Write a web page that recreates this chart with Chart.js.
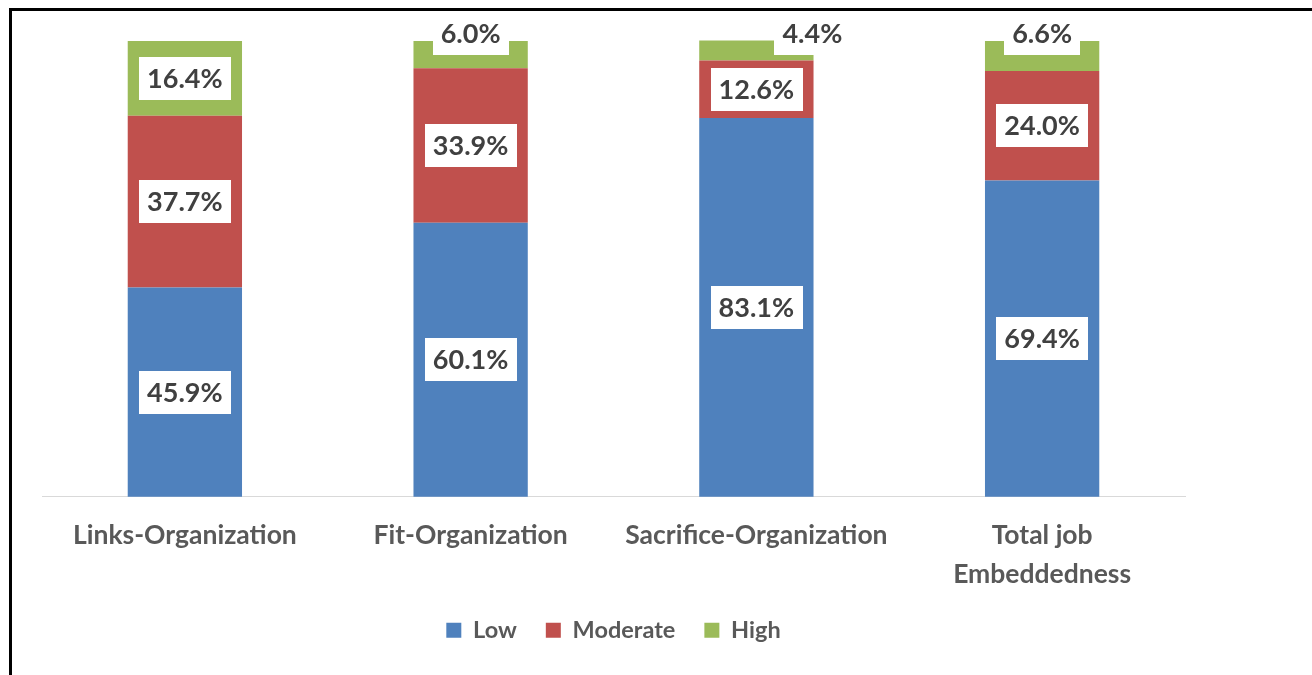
<!DOCTYPE html>
<html>
<head>
<meta charset="utf-8">
<script src="https://cdn.jsdelivr.net/npm/chart.js@4.4.1/dist/chart.umd.min.js"></script>
<style>
  html, body { margin: 0; padding: 0; background: #fff; }
  #wrap { position: relative; width: 1312px; height: 675px; overflow: hidden; }
  #chart { position: absolute; left: 0; top: 0; }
  .frameTop { position: absolute; left: 9px; top: 8px; width: 1303px; height: 3px; background: #000; }
  .frameLeft { position: absolute; left: 9px; top: 8px; width: 3px; height: 667px; background: #000; }
</style>
</head>
<body>
<div id="wrap">
  <canvas id="chart" width="1312" height="675"></canvas>
  <div class="frameTop"></div>
  <div class="frameLeft"></div>
</div>
<script>
// data
const categories = [
  "Links-Organization",
  "Fit-Organization",
  "Sacrifice-Organization",
  ["Total job", "Embeddedness"],
];
const lowValues = [45.9, 60.1, 83.1, 69.4];
const moderateValues = [37.7, 33.9, 12.6, 24.0];
const highValues = [16.4, 6.0, 4.4, 6.6];

const FONT = "Lato, 'Open Sans', sans-serif";

// draws the white boxed percentage labels on each segment
const boxLabels = {
  id: "boxLabels",
  afterDatasetsDraw(chart, args, opts) {
    const ctx = chart.ctx;
    ctx.save();
    ctx.font = "bold " + opts.size + "px " + FONT;
    ctx.textAlign = "center";
    ctx.textBaseline = "middle";
    chart.data.datasets.forEach((ds, di) => {
      const meta = chart.getDatasetMeta(di);
      const shift = opts.shiftX[ds.label] || [];
      meta.data.forEach((bar, i) => {
        const text = ds.data[i].toFixed(1) + "%";
        const tw = ctx.measureText(text).width;
        const w = tw + opts.padX * 2;
        const h = opts.boxH;
        const top = Math.min(bar.y, bar.base);
        const segH = Math.abs(bar.base - bar.y);
        let cy = (bar.y + bar.base) / 2;
        if (segH < h) {
          // small segment: push the label up so it sits over the bar end
          cy = top + opts.smallDrop - h / 2;
        }
        const cx = bar.x + (shift[i] || 0);
        ctx.fillStyle = "#ffffff";
        ctx.fillRect(Math.round(cx - w / 2), Math.round(cy - h / 2), Math.round(w), h);
        ctx.fillStyle = "#404040";
        ctx.fillText(text, cx, cy + 1);
      });
    });
    ctx.restore();
  },
};

const ctx = document.getElementById("chart").getContext("2d");
new Chart(ctx, {
  type: "bar",
  data: {
    labels: categories,
    datasets: [
      { label: "Low", data: lowValues, backgroundColor: "#4F81BD" },
      { label: "Moderate", data: moderateValues, backgroundColor: "#C0504D" },
      { label: "High", data: highValues, backgroundColor: "#9BBB59" },
    ],
  },
  options: {
    responsive: false,
    animation: false,
    layout: {
      padding: { left: 42, right: 127, top: 41, bottom: 23 },
    },
    datasets: {
      bar: {
        categoryPercentage: 1,
        barPercentage: 0.4,
        borderWidth: 0,
        clip: false,
      },
    },
    scales: {
      x: {
        stacked: true,
        grid: { display: false, drawTicks: false },
        border: { display: true, color: "#D9D9D9", width: 1 },
        ticks: {
          color: "#595959",
          padding: 20,
          maxRotation: 0,
          autoSkip: false,
          font: { family: FONT, size: 26.5, weight: "bold", lineHeight: 1.45 },
        },
        // labels may hang into the legend gap, keep the legend close
        afterFit: (scale) => {
          scale.height -= 24;
        },
      },
      y: {
        stacked: true,
        display: false,
        min: 0,
        max: 100,
      },
    },
    plugins: {
      tooltip: { enabled: false },
      legend: {
        position: "bottom",
        labels: {
          color: "#595959",
          boxWidth: 15,
          boxHeight: 15,
          padding: 29,
          font: { family: FONT, size: 23.5, weight: "bold" },
        },
      },
      boxLabels: {
        size: 27,
        padX: 8,
        boxH: 43,
        smallDrop: 14,
        shiftX: { High: [0, 0, 56, 0] },
      },
    },
  },
  plugins: [boxLabels],
});
</script>
</body>
</html>
